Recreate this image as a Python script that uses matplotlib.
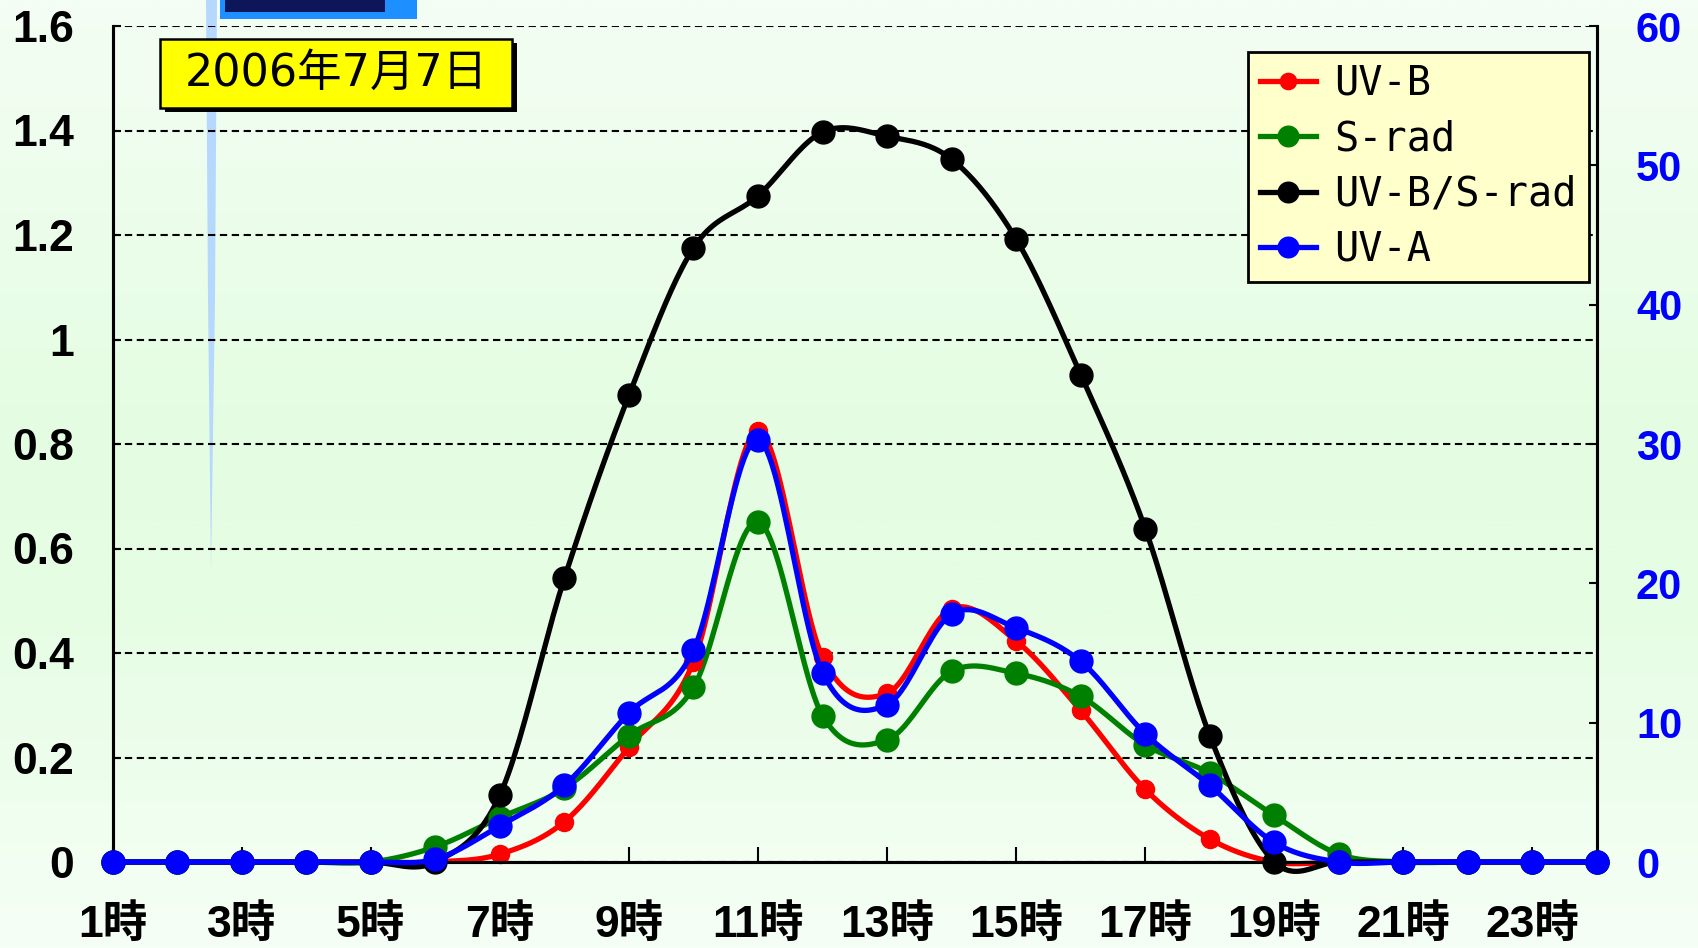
import numpy as np
import matplotlib
matplotlib.use("Agg")
import matplotlib.pyplot as plt
from matplotlib.lines import Line2D
from matplotlib.patches import Rectangle, Polygon
from matplotlib import font_manager as fm

# ---------------- data ----------------
hours = list(range(1, 25))
xtick_hours = list(range(1, 24, 2))
xtick_labels = [f"{h}時" for h in xtick_hours]
left_ticks = [0, 0.2, 0.4, 0.6, 0.8, 1.0, 1.2, 1.4, 1.6]
left_labels = ["0", "0.2", "0.4", "0.6", "0.8", "1", "1.2", "1.4", "1.6"]
right_ticks = [0, 10, 20, 30, 40, 50, 60]

uvb = [0, 0, 0, 0, 0, 0, 0.015, 0.077, 0.22, 0.383, 0.825, 0.392, 0.323, 0.485,
       0.423, 0.29, 0.139, 0.044, 0.0, 0, 0, 0, 0, 0]
srad = [0, 0, 0, 0, 0, 0.029, 0.085, 0.141, 0.242, 0.334, 0.651, 0.28, 0.234, 0.365,
        0.361, 0.317, 0.224, 0.17, 0.089, 0.015, 0, 0, 0, 0]
ratio = [0, 0, 0, 0, 0, 0, 0.128, 0.543, 0.893, 1.175, 1.275, 1.397, 1.389, 1.345,
         1.192, 0.933, 0.638, 0.242, 0, 0, 0, 0, 0, 0]
uva = [0, 0, 0, 0, 0, 0.2, 2.6, 5.5, 10.7, 15.2, 30.3, 13.6, 11.3, 17.8,
       16.8, 14.4, 9.2, 5.5, 1.4, 0, 0, 0, 0, 0]

series_names = ["UV-B", "S-rad", "UV-B/S-rad", "UV-A"]
date_text = "2006年7月7日"

# ---------------- fonts ----------------
names = {f.name for f in fm.fontManager.ttflist}
narrow = "Liberation Sans Narrow" if "Liberation Sans Narrow" in names else "Liberation Sans"
CJK = "Noto Sans CJK JP"


def smooth(x, y, n=24):
    """Excel-like smoothed line (Catmull-Rom Bezier) through the data points."""
    x = np.asarray(x, float)
    y = np.asarray(y, float)
    P = np.column_stack([x, y])
    out = []
    t = np.linspace(0, 1, n)[:, None]
    for i in range(len(P) - 1):
        p0 = P[i - 1] if i > 0 else P[i]
        p1, p2 = P[i], P[i + 1]
        p3 = P[i + 2] if i + 2 < len(P) else P[i + 1]
        c1 = p1 + (p2 - p0) / 6.0
        c2 = p2 - (p3 - p1) / 6.0
        seg = ((1 - t) ** 3) * p1 + 3 * ((1 - t) ** 2) * t * c1 + 3 * (1 - t) * t ** 2 * c2 + t ** 3 * p2
        out.append(seg if i == 0 else seg[1:])
    S = np.vstack(out)
    return S[:, 0], S[:, 1]


W, H = 1698, 948
fig = plt.figure(figsize=(W / 100, H / 100), dpi=100)

# background gradient
bg = fig.add_axes([0, 0, 1, 1], zorder=-10)
bg.set_axis_off()
stops_y = np.array([0.0, 0.45, 0.65, 1.0])
cols = np.array([[244, 254, 244], [228, 253, 226], [230, 253, 228], [246, 255, 246]]) / 255.0
yy = np.linspace(0, 1, 400)
grad = np.column_stack([np.interp(yy, stops_y, cols[:, k]) for k in range(3)])
bg.imshow(grad[:, None, :], aspect="auto", extent=[0, 1, 1, 0])
bg.set_xlim(0, 1)
bg.set_ylim(1, 0)
# decorative artifacts of the original slide
strip = Polygon([[206 / W, 0], [217 / W, 0], [215 / W, 300 / H], [211 / W, 570 / H], [208 / W, 300 / H]],
                closed=True, facecolor="#b4d6ff", edgecolor="none", alpha=0.95)
bg.add_patch(strip)
bg.add_patch(Rectangle((220 / W, 0), 197 / W, 19 / H, facecolor="#1e8fff", edgecolor="none"))
bg.add_patch(Rectangle((225 / W, 0), 160 / W, 12 / H, facecolor="#0c1658", edgecolor="none"))

# main axes
left, right_px, top_px, bot_px = 112.6, 1597, 26, 862
ax = fig.add_axes([left / W, 1 - bot_px / H, (right_px - left) / W, (bot_px - top_px) / H])
ax.set_facecolor("none")
ax2 = ax.twinx()

ax.set_xlim(1, 24)
ax.set_ylim(0, 1.6)
ax2.set_ylim(0, 60)

for a in (ax, ax2):
    a.spines["top"].set_visible(False)
    for s in ("left", "right", "bottom"):
        a.spines[s].set_linewidth(2.2)
        a.spines[s].set_color("black")

# grid
ax.set_yticks(left_ticks)
ax.set_yticklabels(left_labels)
ax.yaxis.grid(True, color="black", linestyle=(0, (3.5, 2.2)), linewidth=1.5)
ax.set_axisbelow(True)

ax.set_xticks(xtick_hours)
ax.set_xticklabels(xtick_labels)
ax.tick_params(axis="x", direction="in", length=11, width=1.5, pad=30)
ax.tick_params(axis="y", direction="in", length=6, width=1.5, pad=28)
for lab in ax.get_xticklabels():
    lab.set_family([narrow, CJK])
    lab.set_fontsize(32)
    lab.set_fontweight("bold")
for lab in ax.get_yticklabels():
    lab.set_family([narrow, "DejaVu Sans"])
    lab.set_fontsize(32)
    lab.set_fontweight("bold")

ax2.set_yticks(right_ticks)
ax2.tick_params(axis="y", direction="in", length=6, width=1.5, pad=28, colors="black",
                labelcolor="#0000ff")
for lab in ax2.get_yticklabels():
    lab.set_family(["Liberation Sans", "DejaVu Sans"])
    lab.set_fontsize(30)
    lab.set_fontweight("bold")

lw = 3.8
specs = [
    (ax, uvb, "#ff0000", 13, series_names[0]),
    (ax, srad, "#008000", 16.5, series_names[1]),
    (ax, ratio, "#000000", 16.5, series_names[2]),
    (ax2, uva, "#0000ff", 16.5, series_names[3]),
]
handles = []
for a, vals, col, ms, name in specs:
    sx, sy = smooth(hours, vals)
    a.plot(sx, sy, color=col, lw=lw, solid_capstyle="round", clip_on=False, zorder=3)
    a.plot(hours, vals, linestyle="none", marker="o", markersize=ms, color=col,
           markeredgecolor=col, clip_on=False, zorder=4)
    handles.append(Line2D([], [], color=col, lw=lw, marker="o", markersize=ms * 0.9,
                          markeredgecolor=col, label=name))

leg = ax2.legend(handles=handles, loc="upper right", bbox_to_anchor=(0.9946, 0.969),
                 prop={"family": ["DejaVu Sans Mono"], "size": 29},
                 frameon=True, fancybox=False, facecolor="#ffffcc", edgecolor="black",
                 framealpha=1, handlelength=1.4, handletextpad=0.45, labelspacing=0.38,
                 borderpad=0.3, borderaxespad=0)
leg.get_frame().set_linewidth(2)
leg.set_zorder(10)

# date box with shadow
bx0, by0, bx1, by1 = 160, 39, 512, 108
fig.patches.append(Rectangle(((bx0 + 5) / W, 1 - (by1 + 4) / H), (bx1 - bx0) / W, (by1 - by0) / H,
                             transform=fig.transFigure, facecolor="black", edgecolor="none", zorder=5))
fig.patches.append(Rectangle((bx0 / W, 1 - by1 / H), (bx1 - bx0) / W, (by1 - by0) / H,
                             transform=fig.transFigure, facecolor="#ffff00", edgecolor="black",
                             linewidth=1.8, zorder=6))
fig.text((bx0 + bx1) / 2 / W, 1 - (by0 + by1) / 2 / H, date_text, ha="center", va="center",
         family=["DejaVu Sans", CJK], fontsize=32, zorder=7)

fig.savefig("out.png", dpi=100)
